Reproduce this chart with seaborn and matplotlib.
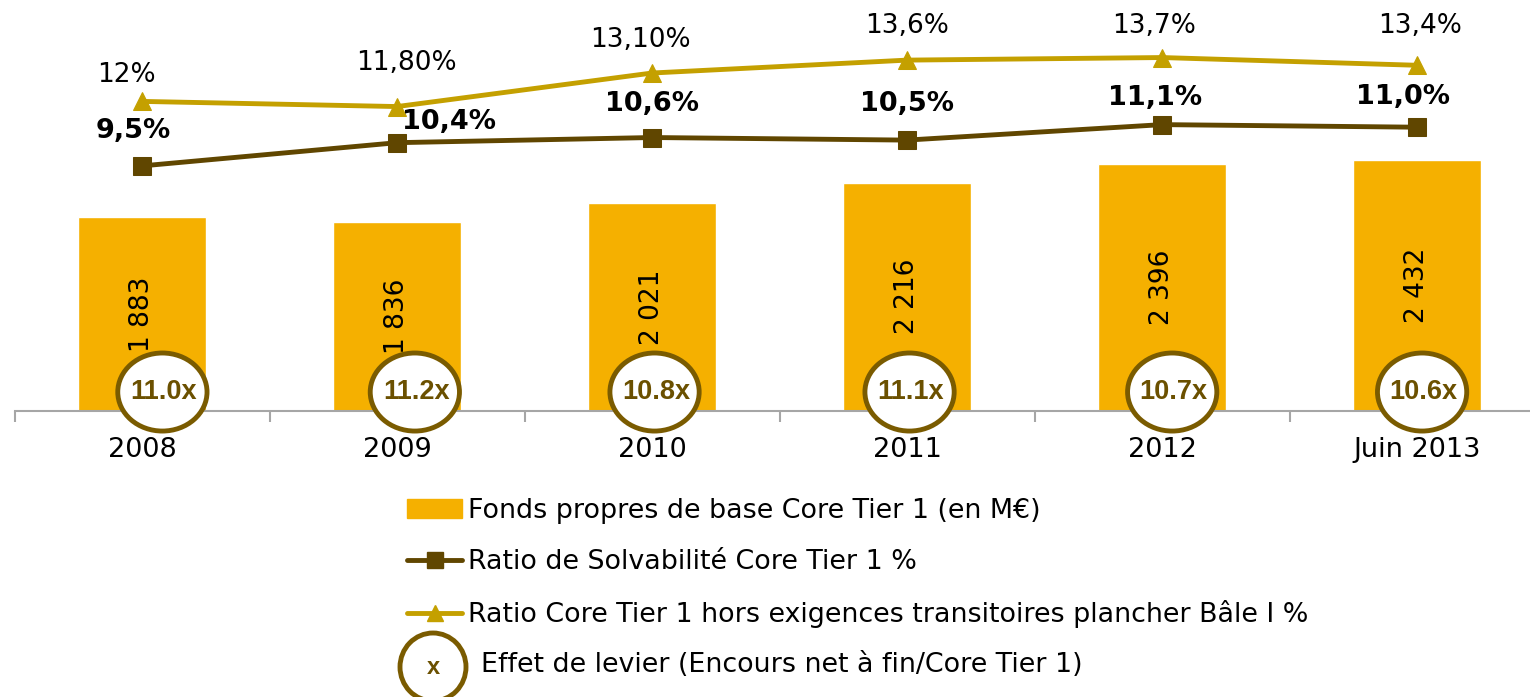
import numpy as np
import pandas as pd
import matplotlib
matplotlib.use("Agg")
import matplotlib.pyplot as plt
from matplotlib.patches import Ellipse, Patch
from matplotlib.lines import Line2D
import seaborn as sns

# data
categories = ["2008", "2009", "2010", "2011", "2012", "Juin 2013"]
fonds_propres = [1883, 1836, 2021, 2216, 2396, 2432]
ratio_solva = [9.5, 10.4, 10.6, 10.5, 11.1, 11.0]
ratio_solva_labels = ["9,5%", "10,4%", "10,6%", "10,5%", "11,1%", "11,0%"]
ratio_hors = [12.0, 11.8, 13.1, 13.6, 13.7, 13.4]
ratio_hors_labels = ["12%", "11,80%", "13,10%", "13,6%", "13,7%", "13,4%"]
levier = ["11.0x", "11.2x", "10.8x", "11.1x", "10.7x", "10.6x"]

legend_labels = [
    "Fonds propres de base Core Tier 1 (en M€)",
    "Ratio de Solvabilité Core Tier 1 %",
    "Ratio Core Tier 1 hors exigences transitoires plancher Bâle I %",
    "Effet de levier (Encours net à fin/Core Tier 1)",
]

BAR = "#F5B000"
DARK = "#604600"
GOLD = "#C4A000"
RING = "#7A5B00"
RING_TXT = "#6B5000"
AXIS_GRAY = "#A6A6A6"

# label offsets in pixels (dx, dy up) - layout only
hors_off = [(-16, 26), (9, 44), (-12, 33), (0, 34), (-8, 32), (3, 39)]
solva_off = [(-9, 35), (52, 21), (0, 34), (0, 36), (-7, 27), (-14, 30)]
ring_dx = [0.08, 0.07, 0.01, 0.01, 0.04, 0.02]

sns.set_style("white")
plt.rcParams["font.family"] = ["DejaVu Sans"]
plt.rcParams["text.color"] = "black"
plt.rcParams["xtick.color"] = "black"
plt.rcParams["legend.labelcolor"] = "black"

W, H = 1530, 697
fig = plt.figure(figsize=(W / 100, H / 100), dpi=100)
base_px = 411
ax = fig.add_axes([14.5 / W, (H - base_px) / H, 1.0, base_px / H])

df = pd.DataFrame({"cat": categories, "val": fonds_propres})
sns.barplot(data=df, x="cat", y="val", color=BAR, saturation=1, width=0.5, ax=ax, zorder=2)
ax.set_xlim(-0.5, 5.5)
ax.set_ylim(0, base_px / 0.1031)
ax.bar_label(ax.containers[0], labels=[f"{v:,}".replace(",", " ") for v in fonds_propres],
             label_type="center", rotation=90, fontsize=19, color="black")

ax.set_xlabel("")
ax.set_ylabel("")
ax.set_yticks([])
for s in ["top", "left", "right"]:
    ax.spines[s].set_visible(False)
ax.spines["bottom"].set_color(AXIS_GRAY)
ax.spines["bottom"].set_linewidth(1.5)
ax.set_xticks(np.arange(len(categories)))
ax.set_xticklabels(categories, fontsize=19.5, color="black")
ax.tick_params(axis="x", which="major", length=0, pad=19)
ax.set_xticks(np.arange(-0.5, 6, 1), minor=True)
ax.tick_params(axis="x", which="minor", bottom=True, length=8, width=1.5,
               color=AXIS_GRAY, direction="out")

# leverage rings
for i, txt in enumerate(levier):
    e = Ellipse((i + ring_dx[i], 184), width=0.35, height=757, facecolor="white",
                edgecolor=RING, linewidth=3.5, zorder=5, clip_on=False)
    ax.add_patch(e)
    ax.text(i + ring_dx[i] + 0.005, 184, txt, ha="center", va="center", fontsize=19.5,
            fontweight="bold", family="Liberation Sans", fontstretch="normal",
            color=RING_TXT, zorder=6)

# ratio lines on a secondary axis
ax2 = ax.twinx()
xpos = np.arange(len(categories))
sns.lineplot(x=xpos, y=ratio_hors, color=GOLD, linewidth=3.5, marker="^", markersize=13,
             markeredgecolor=GOLD, ax=ax2, zorder=3)
sns.lineplot(x=xpos, y=ratio_solva, color=DARK, linewidth=3.5, marker="s", markersize=13,
             markeredgecolor=DARK, ax=ax2, zorder=3)
ax2.set_ylim(0, base_px / 25.8)
ax2.set_xlim(-0.5, 5.5)
ax2.set_yticks([])
ax2.set_ylabel("")
for s in ax2.spines.values():
    s.set_visible(False)

for i, (v, lab) in enumerate(zip(ratio_hors, ratio_hors_labels)):
    dx, dy = hors_off[i]
    ax2.annotate(lab, (i, v), xytext=(dx * 0.72, dy * 0.72), textcoords="offset points",
                 ha="center", va="center", fontsize=19, color="black")
for i, (v, lab) in enumerate(zip(ratio_solva, ratio_solva_labels)):
    dx, dy = solva_off[i]
    ax2.annotate(lab, (i, v), xytext=(dx * 0.72, dy * 0.72), textcoords="offset points",
                 ha="center", va="center", fontsize=19.5, fontweight="bold", color="black")

# legend
handles = [
    Patch(facecolor=BAR, edgecolor=BAR),
    Line2D([], [], color=DARK, linewidth=3.5, marker="s", markersize=11),
    Line2D([], [], color=GOLD, linewidth=3.5, marker="^", markersize=11),
]
fig.legend(handles, legend_labels[:3], loc="upper left", bbox_to_anchor=(407 / W, 1 - 498 / H),
           frameon=False, fontsize=19.4, handlelength=2.05, handletextpad=0.2,
           labelspacing=0.93, borderpad=0, borderaxespad=0, labelcolor="black")
fig.patches.append(Ellipse((433 / W, 1 - 667 / H), 66 / W, 68 / H, transform=fig.transFigure,
                           facecolor="white", edgecolor=RING, linewidth=3.5))
fig.text(433 / W, 1 - 668 / H, "x", ha="center", va="center", fontsize=17,
         fontweight="bold", family="Liberation Sans", color=RING_TXT)
fig.text(481 / W, 1 - 665 / H, legend_labels[3], ha="left", va="center", fontsize=19.4,
         color="black")

fig.savefig("out.png", dpi=100)
